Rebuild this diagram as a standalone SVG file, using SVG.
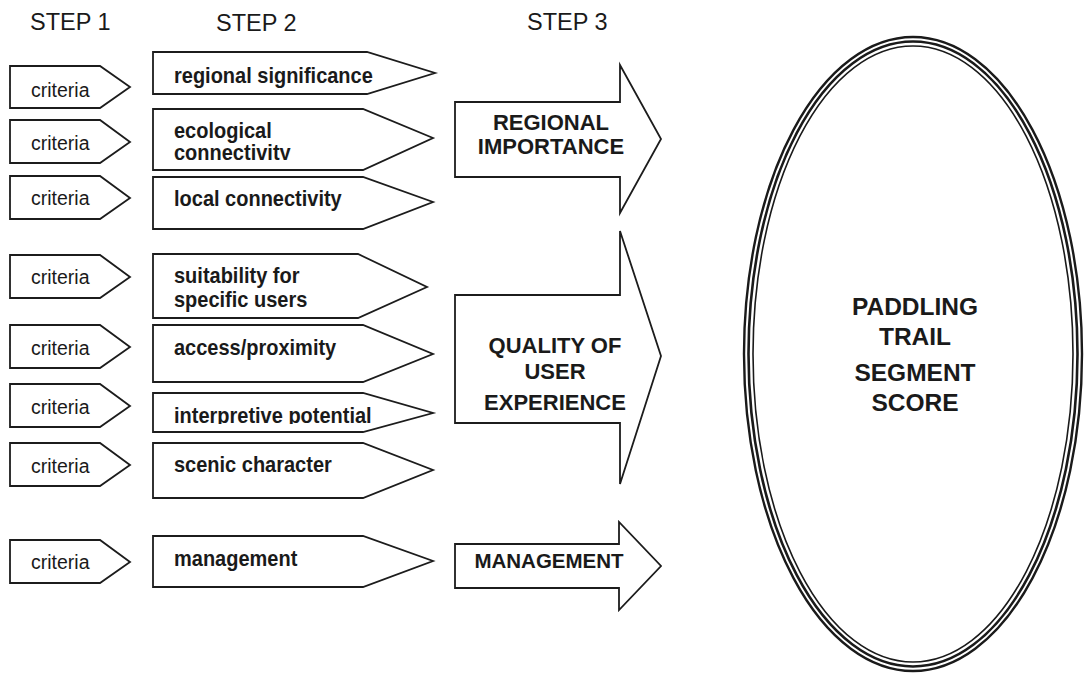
<svg xmlns="http://www.w3.org/2000/svg" width="1087" height="675" viewBox="0 0 1087 675">
  <style>
    .shape { fill: #fff; stroke: #1c1c1c; stroke-width: 1.8; stroke-linejoin: miter; }
    .head { font-family: "Liberation Sans", Arial, sans-serif; font-size: 23.5px; fill: #1a1a1a; }
    .crit { font-family: "Liberation Sans", Arial, sans-serif; font-size: 19.5px; fill: #1a1a1a; }
    .factor { font-family: "Liberation Sans", Arial, sans-serif; font-size: 20px; font-weight: bold; fill: #1a1a1a; }
    .group-label { font-family: "Liberation Sans", Arial, sans-serif; font-size: 22px; font-weight: bold; fill: #1a1a1a; text-anchor: middle; }
    .score-label { font-family: "Liberation Sans", Arial, sans-serif; font-size: 24.5px; font-weight: bold; fill: #1a1a1a; text-anchor: middle; }
    .ring { fill: none; stroke: #1a1a1a; }
  </style>
  <defs>
    <!-- text frames that crop the descenders of the last line -->
    <clipPath id="clip-eco" clipPathUnits="userSpaceOnUse"><rect x="155" y="110" width="240" height="50"/></clipPath>
    <clipPath id="clip-interp" clipPathUnits="userSpaceOnUse"><rect x="155" y="394" width="240" height="30"/></clipPath>
  </defs>

  <rect width="1087" height="675" fill="#fff"/>

  <!-- column headings -->
  <g id="headings">
    <text class="head" x="30" y="30">STEP 1</text>
    <text class="head" x="216" y="31">STEP 2</text>
    <text class="head" x="527" y="30">STEP 3</text>
  </g>

  <!-- step 1: criteria tags -->
  <g id="criteria-1"><path class="shape" d="M10,66 H100 L130,87 L100,108 H10 Z"/><text class="crit" x="31" y="97">criteria</text></g>
  <g id="criteria-2"><path class="shape" d="M10,120 H100 L130,142 L100,163 H10 Z"/><text class="crit" x="31" y="150">criteria</text></g>
  <g id="criteria-3"><path class="shape" d="M10,176 H100 L130,198 L100,219 H10 Z"/><text class="crit" x="31" y="205">criteria</text></g>
  <g id="criteria-4"><path class="shape" d="M10,255 H100 L130,277 L100,298 H10 Z"/><text class="crit" x="31" y="284">criteria</text></g>
  <g id="criteria-5"><path class="shape" d="M10,325 H100 L130,347 L100,368 H10 Z"/><text class="crit" x="31" y="355">criteria</text></g>
  <g id="criteria-6"><path class="shape" d="M10,384 H100 L130,406 L100,427 H10 Z"/><text class="crit" x="31" y="414">criteria</text></g>
  <g id="criteria-7"><path class="shape" d="M10,443 H100 L130,465 L100,486 H10 Z"/><text class="crit" x="31" y="473">criteria</text></g>
  <g id="criteria-8"><path class="shape" d="M10,540 H100 L130,562 L100,583 H10 Z"/><text class="crit" x="31" y="569">criteria</text></g>

  <!-- step 2: factor tags -->
  <g id="factor-regional-significance">
    <path class="shape" d="M153,52 H367 L435,73 L367,94 H153 Z"/>
    <g transform="translate(174,83) scale(1,1.12)"><text class="factor">regional significance</text></g>
  </g>
  <g id="factor-ecological-connectivity">
    <path class="shape" d="M153,109 H363 L433,138 L363,170 H153 Z"/>
    <g clip-path="url(#clip-eco)">
      <g transform="translate(174,138) scale(1,1.1)"><text class="factor">ecological</text></g>
      <g transform="translate(174,160) scale(1,1.1)"><text class="factor">connectivity</text></g>
    </g>
  </g>
  <g id="factor-local-connectivity">
    <path class="shape" d="M153,177 H363 L433,202 L363,229 H153 Z"/>
    <g transform="translate(174,206) scale(1,1.12)"><text class="factor">local connectivity</text></g>
  </g>
  <g id="factor-suitability">
    <path class="shape" d="M153,254 H358 L427,287 L358,318 H153 Z"/>
    <g transform="translate(174,283) scale(1,1.1)"><text class="factor">suitability for</text></g>
    <g transform="translate(174,307) scale(1,1.1)"><text class="factor">specific users</text></g>
  </g>
  <g id="factor-access">
    <path class="shape" d="M153,325 H363 L433,354 L363,382 H153 Z"/>
    <g transform="translate(174,355) scale(1,1.12)"><text class="factor">access/proximity</text></g>
  </g>
  <g id="factor-interpretive">
    <path class="shape" d="M153,393 H363 L433,413 L363,432 H153 Z"/>
    <g clip-path="url(#clip-interp)">
      <g transform="translate(174,423) scale(1,1.12)"><text class="factor">interpretive potential</text></g>
    </g>
  </g>
  <g id="factor-scenic">
    <path class="shape" d="M153,443 H363 L433,470 L363,498 H153 Z"/>
    <g transform="translate(174,472) scale(1,1.12)"><text class="factor">scenic character</text></g>
  </g>
  <g id="factor-management">
    <path class="shape" d="M153,536 H363 L433,561 L363,587 H153 Z"/>
    <g transform="translate(174,566) scale(1,1.12)"><text class="factor">management</text></g>
  </g>

  <!-- step 3: block arrows feeding the segment score -->
  <g id="connectors">
    <g id="arrow-regional-importance">
      <path class="shape" d="M455,102 H620 V65 L661,139 L620,213 V177 H455 Z"/>
      <text class="group-label" x="551" y="130">REGIONAL</text>
      <text class="group-label" x="551" y="154">IMPORTANCE</text>
    </g>
    <g id="arrow-user-experience">
      <path class="shape" d="M455,295 H620 V231 L661,356 L620,484 V423 H455 Z"/>
      <text class="group-label" x="555" y="353">QUALITY OF</text>
      <text class="group-label" x="555" y="379">USER</text>
      <text class="group-label" x="555" y="410">EXPERIENCE</text>
    </g>
    <g id="arrow-management">
      <path class="shape" d="M455,544 H619 V522 L661,566 L619,610 V588 H455 Z"/>
      <text class="group-label" x="549" y="568" style="font-size:20.5px">MANAGEMENT</text>
    </g>
  </g>

  <!-- result: triple-ringed ellipse -->
  <g id="segment-score">
    <ellipse cx="913" cy="354" rx="170" ry="318" fill="#fff"/>
    <ellipse class="ring" cx="913" cy="354" rx="169" ry="317" stroke-width="2.4"/>
    <ellipse class="ring" cx="913" cy="354" rx="164.5" ry="312.5" stroke-width="2.6"/>
    <ellipse class="ring" cx="913" cy="354" rx="160" ry="308" stroke-width="1.6"/>
    <text class="score-label" x="915" y="315">PADDLING</text>
    <text class="score-label" x="915" y="345">TRAIL</text>
    <text class="score-label" x="915" y="381">SEGMENT</text>
    <text class="score-label" x="915" y="411">SCORE</text>
  </g>
</svg>
